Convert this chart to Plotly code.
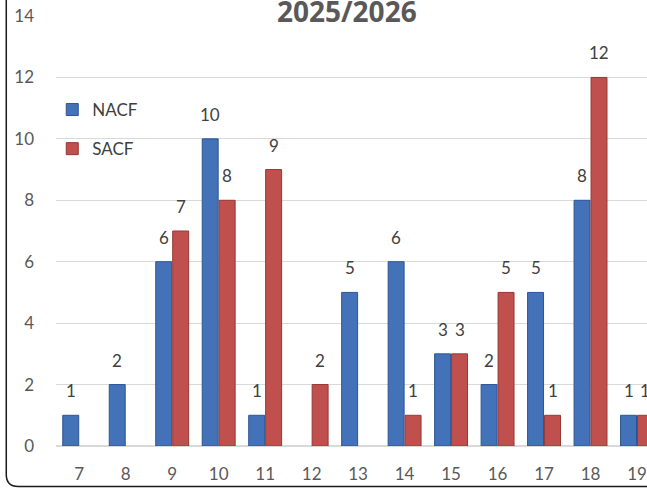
import plotly.graph_objects as go

categories = ["7", "8", "9", "10", "11", "12", "13", "14", "15", "16", "17", "18", "19"]
nacf = [1, 2, 6, 10, 1, None, 5, 6, 3, 2, 5, 8, 1]
sacf = [None, None, 7, 8, 9, 2, None, 1, 3, 5, 1, 12, 1]
title_text = "2025/2026"

W, H = 647, 488
ml, mt, mb = 55.75, 16, 42
pw, ph = W - ml, H - mt - mb
x_range = [-0.5, 12.215]
bargap, bargroupgap = 0.27, 0.06

def px(x):
    return (x - ml) / pw

def py(y):
    return (H - mb - y) / ph

label_font = dict(family="Lato", size=17, color="#404040")

fig = go.Figure()
fig.add_trace(go.Bar(
    x=categories, y=nacf, name="NACF", legendgroup="a",
    marker=dict(color="#4472B9", line=dict(color="#2B5592", width=1)),
))
fig.add_trace(go.Bar(
    x=categories, y=sacf, name="SACF", legendgroup="b",
    marker=dict(color="#C0504D", line=dict(color="#963734", width=1)),
))

# data labels above each bar (bar centre offset within the group, in pixels)
cat_px = pw / (x_range[1] - x_range[0])
half = (1 - bargap) * cat_px / 4
for vals, sign in ((nacf, -1), (sacf, 1)):
    for j, v in enumerate(vals):
        if v is None:
            continue
        fig.add_annotation(x=j, y=v, xref="x", yref="y", text=str(v), showarrow=False,
                           xanchor="center", yanchor="bottom", xshift=sign * half, yshift=12,
                           font=label_font)

# rounded chart border (partially visible)
x0, yb = px(6), py(486.5)
rx, ry = 12 / pw, 12 / ph
path = (f"M {x0},{py(-10)} L {x0},{yb + ry} Q {x0},{yb} {x0 + rx},{yb} L {px(700)},{yb}")
fig.add_shape(type="path", xref="paper", yref="paper", path=path,
              line=dict(color="#1a1a1a", width=1.5))

fig.add_annotation(text="<b>%s</b>" % title_text, xref="paper", yref="paper",
                   x=px(347), y=py(11), xanchor="center", yanchor="middle",
                   showarrow=False, font=dict(family="Open Sans", size=28, color="#595959"))

fig.update_layout(
    width=W, height=H,
    margin=dict(l=ml, r=0, t=mt, b=mb, pad=0),
    paper_bgcolor="white", plot_bgcolor="white",
    barmode="group", bargap=bargap, bargroupgap=bargroupgap,
    showlegend=True,
    legend=dict(x=px(52), y=py(92), xanchor="left", yanchor="top",
                font=dict(family="Lato", size=17, color="#404040"),
                bgcolor="rgba(0,0,0,0)", tracegroupgap=14, traceorder="grouped"),
    font=dict(family="Lato", color="#595959"),
)
fig.update_xaxes(type="category", range=x_range, showgrid=False,
                 showline=False, ticks="", tickfont=dict(family="Lato", size=17, color="#595959"),
                 ticklabelstandoff=16)
fig.update_yaxes(range=[0, 14], dtick=2, showgrid=True, gridcolor="#D9D9D9", gridwidth=1,
                 zeroline=True, zerolinecolor="#D9D9D9", zerolinewidth=2, showline=False,
                 ticks="", tickfont=dict(family="Lato", size=17, color="#595959"),
                 ticklabelstandoff=21)

fig.write_html("out.html", config={"displayModeBar": False},
               post_script="document.body.style.margin='0';document.body.style.overflow='hidden';")
